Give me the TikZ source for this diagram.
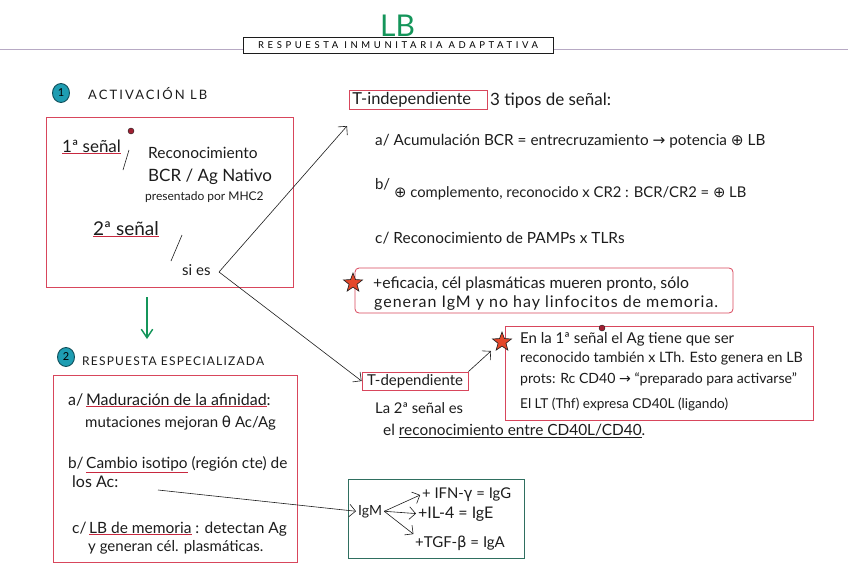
\documentclass[tikz,border=0pt]{standalone}
\usepackage{fontspec}
\setmainfont{Lato}
\newfontfamily\symb{DejaVu Sans}
\usetikzlibrary{arrows.meta,positioning,shapes.geometric}
\definecolor{Ink}{HTML}{1C1C1C}
\definecolor{BoxRed}{HTML}{D8465C}
\definecolor{UlRed}{HTML}{C8283F}
\definecolor{Teal}{HTML}{1E9DB2}
\definecolor{DeepTeal}{HTML}{0F4E5A}
\definecolor{LBGreen}{HTML}{14955A}
\definecolor{BoxGreen}{HTML}{2F6F60}
\definecolor{StarRed}{HTML}{E4472A}
\definecolor{Rule}{HTML}{B7A9C4}
\newcommand{\ulr}[1]{{\color{UlRed}\underline{\color{Ink}#1}}}
\newcommand{\pls}{{\symb ⊕}}
\newcommand{\fs}[1]{\fontsize{#1}{#1}\selectfont}

\begin{document}
\begin{tikzpicture}[x=1pt,y=-1pt,
        t/.style={anchor=base west,inner sep=0,text=Ink,font=\fs{15}},
        caps/.style={t,font=\fs{12}\addfontfeatures{LetterSpace=10}},
        rb/.style={draw=BoxRed,line width=0.8pt},
        gb/.style={draw=BoxGreen,line width=0.9pt},
        tag/.style={rb,inner sep=0,text=Ink,font=\fs{15}},
        num/.style={ellipse,minimum width=17pt,minimum height=19pt,inner sep=0,fill=Teal,draw=DeepTeal,line width=0.9pt,font=\fs{11}},
        a/.style={-{Straight Barb[length=2.2mm]},draw=Ink,line width=0.6pt},
        ga/.style={-{Straight Barb[length=3mm,width=4mm]},draw=LBGreen,line width=1.4pt},
        st/.style={star,star points=5,star point ratio=2.4,minimum size=20pt,inner sep=0,fill=StarRed,draw=Ink,line width=0.6pt},
        dot/.style={circle,minimum size=6pt,inner sep=0,fill=UlRed!80!black,draw=Ink,line width=0.4pt}]
        \useasboundingbox (0,0) rectangle (848,581);
        \draw[Rule,line width=0.8pt] (0,49)--(848,49);
        \node[t,font=\fs{30},text=LBGreen] (lb) at (380,36) {LB};
        \node[draw=Ink,fill=white,line width=0.9pt,minimum width=310pt,minimum height=16pt,inner sep=0,
          font=\fs{9.5}\addfontfeatures{LetterSpace=38}] (title) at (398,45) {RESPUESTA INMUNITARIA ADAPTATIVA};

        \node[num] (n1) at (61,93) {1};
        \node[caps,font=\fs{13}\addfontfeatures{LetterSpace=16}] (act) at (88,99) {ACTIVACIÓN LB};
        \draw[rb] (46,117) rectangle (293,287);
        \node[t,font=\fs{17}] (s1) at (62,152) {\ulr{1ª señal}};
        \node[dot] (d1) at (131,131) {};
        \coordinate (s1a) at (129,150);
        \coordinate (s1b) at (123,170);
        \draw[Ink,line width=0.6pt] (s1a)--(s1b);
        \node[t,font=\fs{15.5}] (rec) at (148,158) {Reconocimiento};
        \node[t,font=\fs{17}] (bcr) at (148,181) {BCR / Ag Nativo};
        \node[t,font=\fs{12}] (mhc) at (145,200) {presentado por MHC2};
        \node[t,font=\fs{19}] (s2) at (93,235) {\ulr{2ª señal}};
        \coordinate (s2a) at (182,235);
        \coordinate (s2b) at (171,261);
        \draw[Ink,line width=0.6pt] (s2a)--(s2b);
        \node[t] (sies) at (182,275) {si es};
        \coordinate (fork) at (219,272);
        \coordinate (tia) at (347,126);

        \coordinate (g1) at (147,297);
        \coordinate (g2) at (147,339);
        \draw[ga] (g1)--(g2);

        \node[num] (n2) at (66,357) {2};
        \node[caps] (esp) at (82,365) {RESPUESTA ESPECIALIZADA};
        \draw[rb] (53,375) rectangle (297,562);
        \node[t,font=\fs{16}] (ea1) at (68,405) {a/\,\ulr{Maduración de la afinidad}:};
        \node[t] (ea2) at (85,427) {mutaciones mejoran {\symb θ} Ac/Ag};
        \node[t,font=\fs{15.4}] (eb1) at (68,468) {b/\,\ulr{Cambio isotipo} (región cte) de};
        \node[t,font=\fs{16}] (eb2) at (72,487) {los Ac:};
        \coordinate (bl) at (158,490);
        \node[t,font=\fs{15.5}] (ec1) at (72,533) {c/\,\ulr{LB de memoria} : detectan Ag};
        \node[t] (ec2) at (88,551) {y generan cél. plasmáticas.};

        \draw[gb] (348,479) rectangle (524,558);
        \node[t,font=\fs{14},inner sep=2pt] (igm) at (356,515) {IgM};
        \node[t,font=\fs{14.8}] (ifn) at (422,498) {+ IFN-{\symb γ} = IgG};
        \node[t,font=\fs{16}] (il4) at (418,518) {+IL-4 = IgE};
        \node[t] (tgf) at (415,547) {+TGF-{\symb β} = IgA};
        \draw[a] (bl)--(igm.west);
        \draw[a,shorten >=2pt] (igm.east)--(ifn.west);
        \draw[a,shorten >=2pt] (igm.east)--(il4.west);
        \draw[a,shorten >=2pt] (igm.east)--(tgf.north west);

        \node[tag,font=\fs{16.5},minimum width=138pt,minimum height=19pt,text width=132pt,align=left,anchor=west] (tind) at (349,99.5) {T-independiente};
        \node[t,font=\fs{17}] (tipos) at (490,105) {3 tipos de señal:};
        \node[t,font=\fs{15.3}] (ia) at (375,145) {a/\ Acumulación BCR = entrecruzamiento {\symb →} potencia \pls\ LB};
        \node[t] (ib0) at (375,189) {b/};
        \node[t,font=\fs{14.8}] (ib) at (394,197) {\pls\ complemento, reconocido x CR2 : BCR/CR2 = \pls\ LB};
        \node[t,font=\fs{15.4}] (ic) at (375,243) {c/ Reconocimiento de PAMPs x TLRs};
        \draw[a] (fork)--(tia);

        \draw[rb,rounded corners=4pt] (355,268) rectangle (733,313);
        \node[st] (st1) at (353,283) {};
        \node[t,font=\fs{15.8}] (ef1) at (373,288) {+eficacia, cél plasmáticas mueren pronto, sólo};
        \node[t,font=\fs{16}\addfontfeatures{LetterSpace=6}] (ef2) at (374,307) {generan IgM y no hay linfocitos de memoria.};

        \node[tag,minimum width=106pt,minimum height=18pt] (tdep) at (415,381) {T-dependiente};
        \draw[a] (fork)--(tdep.west);
        \node[t,font=\fs{14.8}] (sen1) at (375,413) {La 2ª señal es};
        \node[t,font=\fs{15.4}] (sen2) at (383,435) {el \underline{reconocimiento entre CD40L/CD40}.};

        \draw[rb] (505,326) rectangle (813,420);
        \node[st] (st2) at (502,342) {};
        \node[dot] (d2) at (602,328) {};
        \coordinate (tdo) at (491,351);
        \draw[a] (tdep.north east)--(tdo);
        \node[t,font=\fs{15}] (cd1) at (520,343) {En la 1ª señal el Ag tiene que ser};
        \node[t,font=\fs{14.3}] (cd2) at (520,362) {reconocido también x LTh. Esto genera en LB};
        \node[t,font=\fs{14.1}] (cd3) at (520,383) {prots: Rc CD40 {\symb →} “preparado para activarse”};
        \node[t,font=\fs{13.6}] (cd4) at (520,408) {El LT (Thf) expresa CD40L (ligando)};
      \end{tikzpicture}
\end{document}
